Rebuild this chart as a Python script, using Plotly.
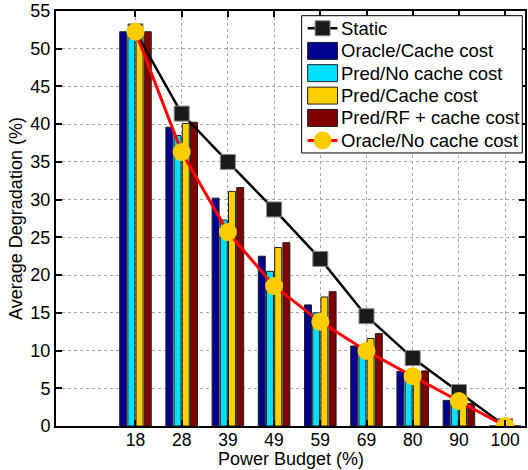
import plotly.graph_objects as go

budgets = ["18", "28", "39", "49", "59", "69", "80", "90", "100"]
positions = [1, 2, 3, 4, 5, 6, 7, 8, 9]

static = [52.3, 41.4, 35.0, 28.7, 22.15, 14.55, 9.0, 4.5, 0.0]
oracle_cache = [52.25, 39.6, 30.2, 22.5, 16.05, 10.6, 7.25, 3.4, 0.0]
pred_nocache = [52.6, 38.5, 27.3, 20.5, 15.0, 9.6, 6.8, 3.0, 0.0]
pred_cache = [52.4, 40.1, 31.1, 23.65, 17.1, 11.6, 7.0, 3.2, 0.0]
pred_rf_cache = [52.25, 40.25, 31.6, 24.3, 17.8, 12.25, 7.3, 3.0, 0.0]
oracle_nocache = [52.25, 36.3, 25.7, 18.55, 13.8, 9.95, 6.6, 3.3, 0.0]

bar_series = [
    ("Oracle/Cache cost", oracle_cache, "#00008F"),
    ("Pred/No cache cost", pred_nocache, "#00E0FF"),
    ("Pred/Cache cost", pred_cache, "#FFD000"),
    ("Pred/RF + cache cost", pred_rf_cache, "#800000"),
]
STATIC_NAME = "Static"
ORACLE_NC_NAME = "Oracle/No cache cost"
X_TITLE = "Power Budget (%)"
Y_TITLE = "Average Degradation (%)"
YELLOW = "#FFCC00"

FONT = "Liberation Sans, Arial, sans-serif"
W, H = 528, 470
ML, MR, MT, MB = 56, 1, 10, 44
PW, PH = W - ML - MR, H - MT - MB


def px(x):
    return (x - ML) / PW


def py(y):
    return (H - MB - y) / PH


fig = go.Figure()

for i, (name, vals, col) in enumerate(bar_series):
    fig.add_trace(go.Bar(
        x=positions, y=vals, name=name,
        marker=dict(color=col, line=dict(color="#202020", width=1)),
        showlegend=False,
    ))

fig.add_trace(go.Scatter(
    x=positions, y=static, name=STATIC_NAME, mode="lines+markers",
    line=dict(color="black", width=2.5),
    marker=dict(symbol="square", size=15, color="#1a1a1a",
                line=dict(color="#888888", width=1)),
    showlegend=False,
))
fig.add_trace(go.Scatter(
    x=positions, y=oracle_nocache, name=ORACLE_NC_NAME, mode="lines+markers",
    line=dict(color="#FF0000", width=3),
    marker=dict(symbol="circle", size=18, color=YELLOW,
                line=dict(color=YELLOW, width=0)),
    showlegend=False,
))

# ---- legend box drawn as layout decoration (MATLAB style) ----
shapes = []
annotations = []
bx0, bx1, by0, by1 = 302.7, 524.3, 14.7, 152.3
shapes.append(dict(type="rect", xref="paper", yref="paper",
                   x0=px(bx0), x1=px(bx1), y0=py(by1), y1=py(by0),
                   fillcolor="white", line=dict(color="black", width=1)))
rows = [27.3, 50.0, 72.3, 94.8, 117.2, 139.8]
sx0, sx1 = 308.7, 338.7
sxc = (sx0 + sx1) / 2
text_x = 341.5

# Static entry: black line + square
shapes.append(dict(type="line", xref="paper", yref="paper",
                   x0=px(sx0), x1=px(sx1), y0=py(rows[0]), y1=py(rows[0]),
                   line=dict(color="black", width=2.5)))
shapes.append(dict(type="rect", xref="paper", yref="paper",
                   x0=px(sxc - 7.5), x1=px(sxc + 7.5),
                   y0=py(rows[0] + 7.5), y1=py(rows[0] - 7.5),
                   fillcolor="#1a1a1a", line=dict(color="#888888", width=1)))
entries = [STATIC_NAME]

for (name, _, col), ry in zip(bar_series, rows[1:5]):
    shapes.append(dict(type="rect", xref="paper", yref="paper",
                       x0=px(sx0), x1=px(sx1),
                       y0=py(ry + 8.5), y1=py(ry - 8.5),
                       fillcolor=col, line=dict(color="#202020", width=1)))
    entries.append(name)

# Oracle/No cache entry: red line + yellow circle
ry = rows[5]
shapes.append(dict(type="line", xref="paper", yref="paper",
                   x0=px(sx0), x1=px(sx1), y0=py(ry), y1=py(ry),
                   line=dict(color="#FF0000", width=3)))
shapes.append(dict(type="circle", xref="paper", yref="paper",
                   x0=px(sxc - 9), x1=px(sxc + 9),
                   y0=py(ry + 9), y1=py(ry - 9),
                   fillcolor=YELLOW, line=dict(color=YELLOW, width=0)))
entries.append(ORACLE_NC_NAME)

for name, ry in zip(entries, rows):
    annotations.append(dict(
        xref="paper", yref="paper", x=px(text_x), y=py(ry),
        xanchor="left", yanchor="middle", text=name, showarrow=False,
        font=dict(family=FONT, size=18.5, color="black"), borderpad=0,
    ))

# x-axis title placed just under the tick labels, as in the reference
annotations.append(dict(
    xref="paper", yref="paper", x=0.5, y=py(470), xanchor="center",
    yanchor="bottom", text=X_TITLE, showarrow=False, borderpad=0,
    font=dict(family=FONT, size=18, color="black"),
))

fig.update_layout(
    width=W, height=H,
    margin=dict(l=ML, r=MR, t=MT, b=MB),
    paper_bgcolor="white", plot_bgcolor="white",
    barmode="group", bargap=0.29, bargroupgap=0.15,
    font=dict(family=FONT, size=18, color="black"),
    showlegend=False,
    shapes=shapes,
    annotations=annotations,
)

fig.update_xaxes(
    range=[-0.72, 9.43],
    tickmode="array", tickvals=positions, ticktext=budgets,
    ticks="inside", ticklen=6, tickwidth=2, tickcolor="black",
    showline=True, linecolor="black", linewidth=2, mirror="ticks",
    showgrid=True, gridcolor="#a8a8a8", griddash="dot", gridwidth=1,
    zeroline=False,
    tickfont=dict(size=17.5), ticklabelstandoff=-3,
)
fig.update_yaxes(
    range=[0, 55], tickmode="linear", tick0=0, dtick=5,
    ticks="inside", ticklen=6, tickwidth=2, tickcolor="black",
    showline=True, linecolor="black", linewidth=2, mirror="ticks",
    showgrid=True, gridcolor="#a8a8a8", griddash="dot", gridwidth=1,
    zeroline=False,
    title=dict(text=Y_TITLE, standoff=3, font=dict(size=18)),
    tickfont=dict(size=18),
)

fig.write_html("out.html")
